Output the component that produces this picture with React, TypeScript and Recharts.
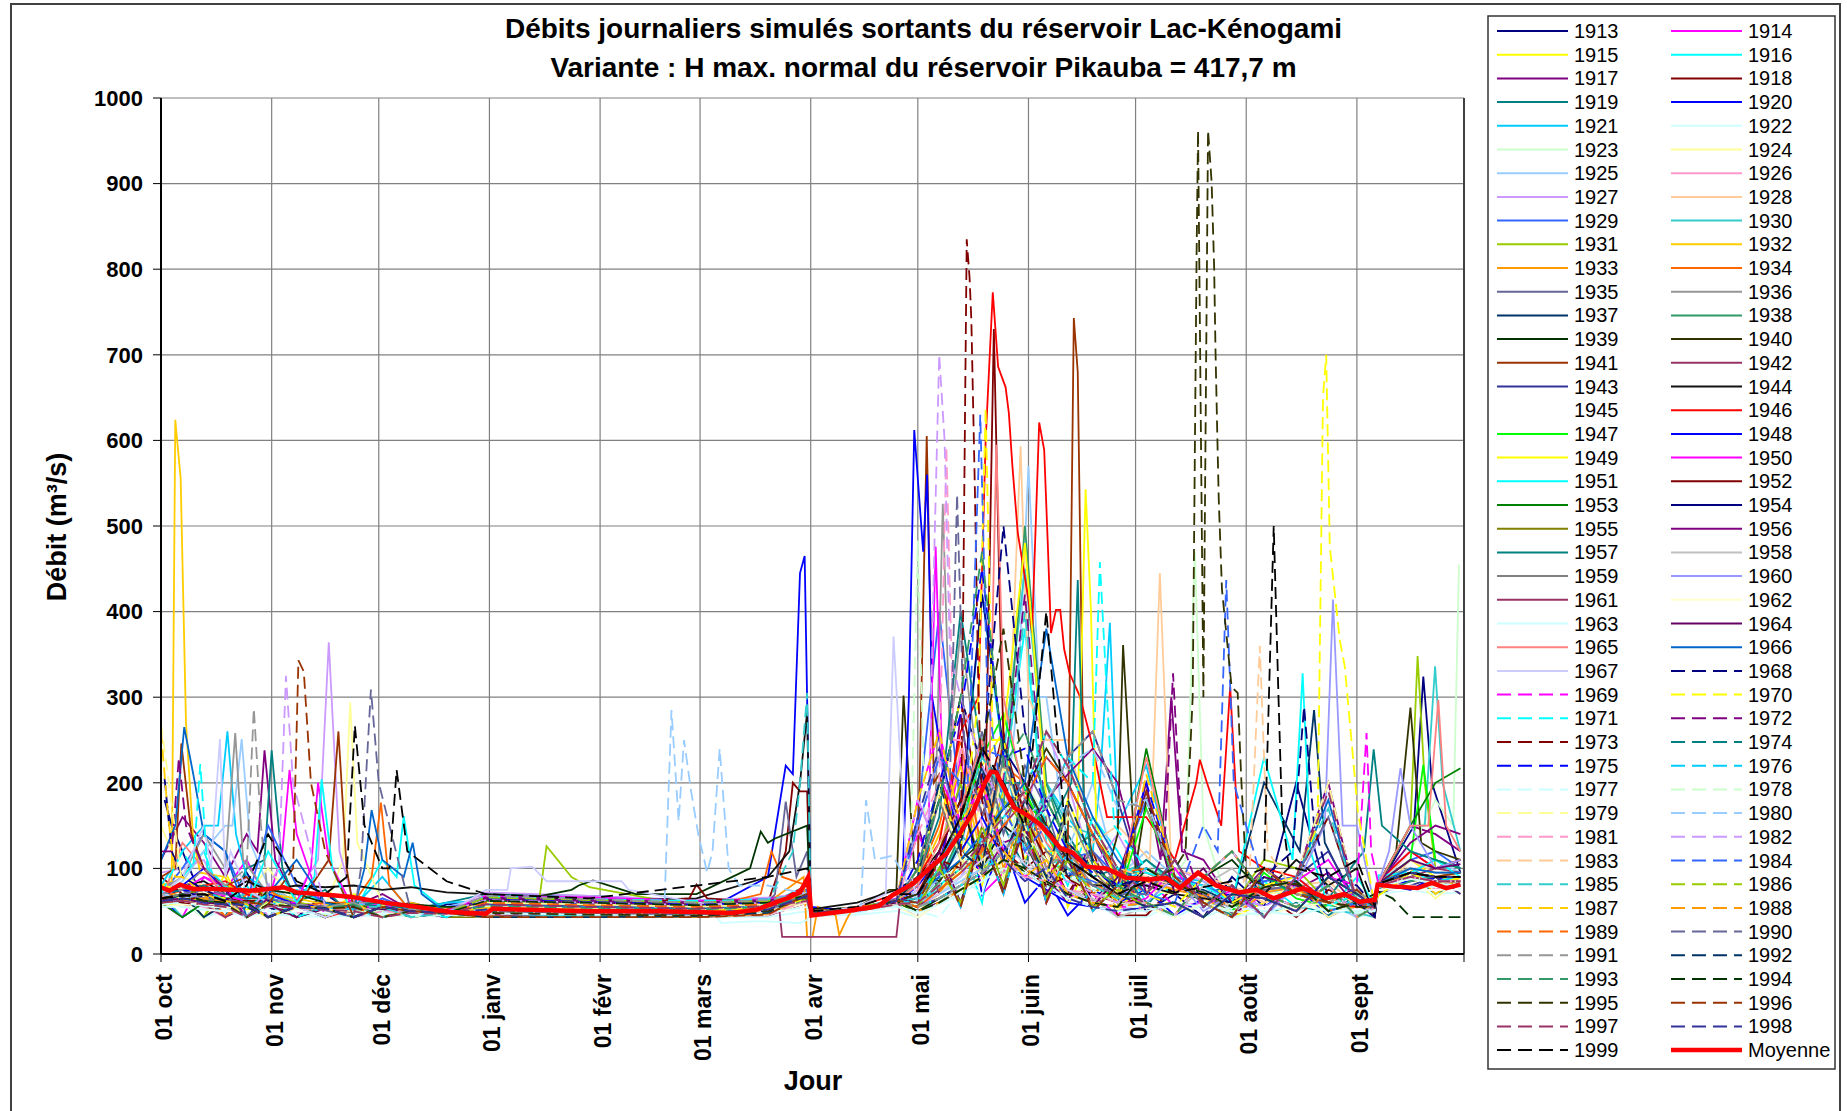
import React from "react";
import { CartesianGrid, Line, LineChart, ReferenceLine, XAxis, YAxis } from "recharts";

const FONT = '"Liberation Sans", Arial, sans-serif';

// day 0 = 1 Oct, day 364 = 30 Sept
const DAYS = [0, 6, 12, 18, 24, 30, 38, 46, 54, 62, 70, 80, 91, 120, 150, 170, 181, 182, 195, 206, 212, 218, 224, 230, 236, 242, 248, 254, 261, 268, 276, 284, 292, 300, 309, 318, 327, 335, 340, 341, 350, 357, 364];

const MONTH_TICKS = [0, 31, 61, 92, 123, 151, 182, 212, 243, 273, 304, 335, 365];
const MONTH_LABELS = ["01 oct", "01 nov", "01 déc", "01 janv", "01 févr", "01 mars", "01 avr", "01 mai", "01 juin", "01 juil", "01 août", "01 sept", ""];
const Y_TICKS = [0, 100, 200, 300, 400, 500, 600, 700, 800, 900, 1000];

type Pt = [number, number];

// readings on the DAYS grid, one row per year
const y1913 = [175, 120, 60, 43, 95, 55, 43, 70, 48, 62, 43, 58, 60, 58, 55, 60, 75, 48, 50, 60, 70, 95, 150, 210, 120, 160, 80, 130, 60, 95, 50, 70, 43, 90, 55, 200, 65, 75, 50, 78, 150, 95, 95];
const y1914 = [60, 43, 90, 75, 110, 60, 70, 43, 65, 55, 48, 43, 43, 43, 43, 47, 70, 47, 52, 65, 140, 90, 230, 70, 95, 150, 60, 110, 70, 45, 90, 55, 60, 43, 70, 80, 60, 48, 55, 80, 120, 100, 110];
const y1915 = [85, 60, 43, 95, 50, 80, 60, 45, 70, 55, 43, 55, 55, 52, 50, 55, 60, 46, 50, 58, 60, 75, 100, 80, 180, 110, 160, 55, 120, 50, 90, 70, 65, 43, 60, 75, 50, 60, 45, 82, 110, 90, 85];
const y1916 = [70, 90, 120, 55, 80, 43, 75, 60, 48, 110, 58, 50, 65, 62, 58, 62, 65, 48, 52, 62, 55, 80, 130, 60, 200, 380, 130, 80, 160, 120, 60, 80, 70, 45, 85, 55, 50, 90, 58, 85, 100, 80, 90];
const y1917 = [110, 160, 130, 90, 140, 75, 62, 43, 56, 70, 51, 48, 43, 43, 43, 45, 60, 46, 50, 60, 150, 70, 280, 110, 120, 160, 90, 60, 140, 80, 200, 90, 110, 60, 100, 75, 95, 55, 56, 80, 150, 140, 120];
const y1918 = [90, 70, 43, 60, 55, 80, 60, 55, 43, 52, 60, 50, 58, 55, 52, 60, 190, 48, 52, 60, 100, 180, 300, 160, 260, 100, 120, 70, 120, 45, 45, 80, 65, 55, 70, 43, 75, 60, 52, 80, 90, 85, 80];
const y1919 = [75, 80, 70, 43, 100, 70, 60, 75, 43, 55, 52, 60, 70, 68, 62, 65, 70, 50, 55, 62, 60, 90, 130, 220, 150, 100, 200, 140, 90, 100, 55, 100, 70, 80, 45, 60, 45, 70, 58, 76, 95, 70, 85];
const y1920 = [65, 43, 60, 80, 70, 65, 58, 43, 55, 60, 50, 55, 48, 46, 45, 90, 460, 55, 50, 58, 80, 110, 200, 70, 130, 60, 90, 45, 75, 60, 75, 45, 65, 70, 55, 80, 43, 60, 55, 80, 85, 90, 80];
const y1921 = [80, 120, 150, 200, 90, 75, 60, 43, 55, 90, 50, 60, 62, 60, 56, 58, 80, 49, 53, 64, 70, 110, 150, 420, 230, 120, 200, 160, 120, 200, 220, 90, 85, 60, 70, 80, 50, 65, 56, 84, 100, 85, 90];
const y1922 = [55, 60, 43, 50, 48, 46, 45, 43, 45, 44, 45, 44, 43, 43, 43, 43, 50, 44, 46, 50, 43, 60, 90, 70, 150, 130, 80, 100, 60, 43, 43, 60, 55, 43, 50, 55, 60, 43, 48, 70, 75, 70, 72];
const y1923 = [60, 70, 43, 80, 65, 60, 43, 55, 52, 60, 50, 48, 55, 52, 50, 55, 70, 47, 52, 60, 55, 70, 95, 130, 110, 200, 160, 90, 110, 70, 100, 90, 70, 43, 75, 80, 60, 55, 55, 80, 120, 180, 430];
const y1924 = [150, 90, 80, 43, 70, 100, 60, 55, 43, 60, 55, 50, 43, 45, 43, 48, 65, 47, 50, 58, 50, 70, 100, 180, 90, 150, 120, 60, 90, 50, 75, 70, 65, 48, 70, 75, 43, 60, 54, 72, 90, 65, 88];
const y1925 = [70, 85, 120, 150, 150, 80, 60, 43, 55, 65, 50, 55, 66, 62, 60, 64, 70, 48, 52, 60, 60, 90, 120, 250, 140, 200, 300, 120, 200, 90, 120, 90, 80, 50, 75, 80, 60, 43, 56, 82, 95, 110, 95];
const y1926 = [65, 60, 55, 43, 70, 60, 48, 55, 43, 52, 50, 48, 50, 48, 47, 50, 65, 47, 51, 58, 75, 110, 240, 120, 210, 170, 80, 110, 60, 90, 90, 75, 68, 43, 72, 78, 55, 60, 45, 80, 100, 75, 90];
const y1927 = [95, 100, 110, 60, 90, 43, 70, 130, 60, 55, 52, 50, 72, 68, 63, 66, 70, 48, 52, 60, 55, 70, 90, 130, 220, 160, 260, 200, 100, 140, 80, 100, 85, 70, 55, 75, 80, 48, 56, 88, 120, 110, 100];
const y1928 = [60, 55, 60, 43, 65, 60, 56, 43, 53, 60, 50, 48, 43, 43, 43, 46, 65, 47, 51, 60, 50, 65, 80, 120, 260, 150, 250, 250, 130, 150, 90, 110, 90, 80, 60, 80, 85, 55, 56, 70, 110, 95, 90];
const y1929 = [70, 100, 140, 120, 60, 150, 80, 60, 43, 65, 52, 55, 60, 57, 54, 58, 75, 48, 52, 62, 160, 400, 170, 240, 230, 140, 150, 110, 120, 90, 180, 90, 80, 65, 85, 90, 60, 55, 57, 83, 110, 120, 100];
const y1930 = [70, 43, 60, 65, 70, 65, 43, 55, 58, 55, 51, 50, 54, 52, 50, 55, 65, 47, 51, 60, 60, 75, 140, 110, 230, 450, 200, 150, 140, 90, 110, 80, 70, 60, 80, 85, 50, 48, 43, 82, 150, 150, 120];
const y1931 = [65, 70, 43, 80, 75, 70, 60, 55, 43, 58, 52, 55, 52, 78, 55, 58, 70, 49, 55, 62, 70, 120, 200, 90, 180, 150, 90, 110, 70, 90, 90, 80, 70, 55, 110, 100, 60, 50, 58, 80, 348, 100, 110];
const y1932 = [80, 420, 150, 90, 43, 70, 65, 58, 55, 43, 60, 50, 45, 43, 43, 50, 70, 48, 52, 62, 85, 140, 220, 110, 190, 160, 120, 120, 80, 90, 90, 80, 70, 48, 80, 85, 55, 60, 56, 86, 100, 70, 90];
const y1933 = [60, 65, 70, 43, 60, 62, 56, 54, 43, 55, 50, 48, 64, 60, 58, 60, 90, 20, 60, 58, 60, 70, 110, 200, 100, 170, 140, 90, 100, 60, 85, 75, 68, 43, 72, 78, 50, 55, 54, 80, 90, 85, 85];
const y1934 = [65, 75, 80, 43, 70, 75, 55, 60, 60, 56, 50, 52, 56, 54, 52, 100, 80, 48, 52, 62, 90, 150, 250, 120, 220, 200, 100, 130, 70, 95, 95, 80, 70, 55, 75, 80, 50, 60, 43, 78, 95, 90, 70];
const y1935 = [70, 60, 65, 55, 60, 43, 56, 54, 60, 43, 50, 48, 43, 44, 43, 60, 120, 48, 52, 64, 65, 95, 160, 260, 140, 220, 170, 90, 120, 80, 90, 80, 70, 48, 75, 80, 55, 60, 56, 82, 75, 90, 90];
const y1936 = [75, 90, 140, 100, 90, 70, 58, 55, 60, 60, 43, 50, 68, 64, 60, 62, 70, 48, 52, 62, 90, 200, 380, 180, 220, 170, 100, 120, 80, 95, 95, 80, 72, 55, 78, 85, 50, 60, 56, 88, 100, 95, 95];
const y1937 = [60, 70, 43, 58, 60, 62, 56, 43, 55, 55, 50, 48, 50, 48, 46, 52, 70, 48, 52, 62, 60, 80, 130, 220, 110, 180, 150, 90, 110, 70, 90, 80, 75, 60, 200, 120, 60, 55, 56, 82, 95, 90, 90];
const y1938 = [65, 70, 60, 75, 55, 70, 43, 55, 58, 55, 51, 43, 62, 58, 56, 60, 70, 48, 52, 62, 55, 85, 140, 250, 170, 500, 200, 120, 140, 90, 100, 85, 72, 55, 80, 85, 55, 60, 56, 70, 85, 90, 95];
const y1939 = [70, 75, 70, 65, 43, 75, 70, 60, 55, 60, 58, 55, 55, 80, 70, 130, 150, 50, 52, 60, 50, 65, 80, 95, 120, 95, 80, 75, 60, 55, 60, 45, 90, 110, 70, 55, 80, 43, 56, 82, 95, 90, 90];
const y1940 = [60, 65, 60, 58, 60, 43, 56, 54, 48, 55, 43, 48, 43, 43, 45, 52, 70, 48, 55, 75, 60, 85, 110, 130, 170, 190, 240, 200, 140, 140, 180, 90, 60, 43, 100, 70, 60, 75, 58, 82, 130, 120, 110];
const y1941 = [90, 120, 100, 80, 90, 60, 55, 43, 51, 60, 50, 48, 58, 55, 52, 56, 70, 48, 52, 62, 90, 210, 120, 100, 250, 140, 90, 180, 110, 70, 100, 80, 72, 55, 78, 85, 50, 60, 56, 82, 95, 90, 95];
const y1942 = [60, 62, 58, 43, 55, 56, 54, 52, 43, 50, 48, 47, 46, 44, 43, 50, 62, 47, 50, 58, 60, 110, 55, 140, 70, 160, 60, 120, 50, 80, 55, 60, 43, 70, 65, 50, 90, 70, 54, 80, 90, 100, 95];
const y1943 = [65, 60, 62, 58, 43, 60, 56, 54, 50, 43, 50, 48, 66, 63, 60, 64, 68, 48, 52, 60, 55, 65, 80, 95, 120, 150, 170, 230, 260, 180, 70, 110, 55, 80, 43, 90, 120, 60, 55, 72, 80, 90, 70];
const y1944 = [75, 80, 85, 70, 85, 75, 80, 78, 80, 75, 78, 72, 70, 62, 65, 90, 283, 52, 60, 75, 90, 120, 180, 100, 150, 130, 80, 100, 80, 80, 80, 70, 65, 60, 70, 110, 80, 100, 43, 78, 90, 85, 85];
const y1945 = [55, 55, 52, 50, 50, 50, 50, 48, 47, 48, 47, 48, 48, 47, 46, 48, 55, 46, 50, 55, 60, 80, 120, 90, 110, 90, 70, 70, 60, 60, 60, 55, 52, 50, 55, 58, 50, 52, 50, 75, 75, 75, 75];
const y1946 = [70, 75, 80, 85, 70, 60, 56, 43, 52, 60, 50, 52, 57, 54, 52, 56, 80, 48, 55, 70, 90, 130, 260, 480, 580, 580, 250, 250, 160, 160, 160, 110, 200, 80, 100, 90, 60, 55, 58, 85, 120, 100, 110];
const y1947 = [60, 65, 70, 62, 55, 43, 56, 54, 60, 52, 43, 48, 43, 43, 43, 50, 65, 48, 52, 60, 65, 100, 150, 230, 280, 190, 140, 100, 80, 65, 170, 85, 60, 50, 95, 65, 55, 70, 55, 82, 110, 100, 100];
const y1948 = [70, 80, 100, 75, 43, 70, 58, 55, 43, 60, 51, 50, 60, 58, 55, 58, 70, 48, 52, 60, 300, 250, 120, 160, 110, 90, 75, 60, 55, 50, 55, 60, 43, 70, 65, 50, 90, 70, 56, 82, 75, 90, 90];
const y1949 = [55, 60, 65, 60, 58, 58, 43, 54, 55, 55, 50, 43, 52, 50, 48, 52, 65, 47, 52, 60, 100, 180, 300, 220, 260, 480, 180, 130, 100, 80, 100, 80, 72, 55, 78, 85, 50, 60, 55, 68, 95, 80, 90];
const y1950 = [70, 75, 90, 80, 43, 60, 60, 55, 52, 60, 43, 50, 68, 66, 62, 64, 70, 48, 52, 62, 180, 260, 150, 200, 120, 90, 110, 70, 60, 55, 65, 100, 55, 75, 43, 85, 110, 60, 56, 82, 95, 90, 90];
const y1951 = [65, 70, 75, 80, 55, 120, 60, 55, 43, 60, 51, 50, 43, 45, 43, 50, 70, 48, 52, 62, 60, 80, 100, 130, 160, 190, 260, 220, 150, 100, 95, 85, 80, 60, 230, 90, 56, 70, 56, 92, 95, 110, 90];
const y1952 = [65, 60, 70, 65, 62, 62, 43, 54, 56, 55, 50, 48, 58, 56, 65, 60, 70, 48, 52, 62, 70, 120, 180, 200, 300, 160, 110, 90, 70, 60, 60, 45, 90, 120, 70, 55, 80, 43, 56, 82, 95, 90, 90];
const y1953 = [60, 43, 60, 62, 60, 60, 56, 43, 58, 52, 50, 48, 62, 60, 57, 60, 65, 47, 52, 60, 50, 60, 75, 90, 110, 100, 85, 70, 60, 55, 240, 90, 60, 43, 100, 70, 60, 75, 55, 80, 150, 200, 217];
const y1954 = [70, 75, 65, 60, 43, 62, 56, 54, 60, 43, 50, 48, 50, 48, 46, 52, 70, 48, 52, 62, 70, 110, 160, 420, 240, 200, 150, 110, 90, 70, 100, 80, 72, 55, 78, 85, 50, 60, 43, 82, 95, 90, 90];
const y1955 = [65, 70, 75, 62, 60, 43, 56, 54, 58, 55, 50, 43, 43, 43, 44, 48, 68, 48, 52, 62, 55, 100, 60, 150, 80, 170, 65, 110, 55, 75, 55, 60, 43, 70, 65, 50, 90, 70, 55, 82, 95, 90, 90];
const y1956 = [60, 65, 70, 65, 43, 60, 56, 54, 43, 55, 50, 48, 66, 62, 60, 63, 68, 48, 52, 62, 50, 60, 75, 90, 130, 140, 180, 210, 240, 200, 70, 110, 55, 80, 43, 90, 200, 60, 55, 82, 130, 150, 140];
const y1957 = [70, 75, 80, 70, 65, 65, 43, 55, 58, 60, 51, 43, 55, 52, 50, 55, 70, 48, 52, 62, 90, 160, 400, 230, 200, 200, 140, 200, 100, 80, 110, 85, 60, 45, 90, 70, 65, 110, 56, 82, 120, 110, 100];
const y1958 = [60, 60, 58, 55, 43, 56, 54, 52, 43, 50, 48, 47, 43, 43, 43, 45, 62, 47, 50, 58, 43, 60, 80, 100, 95, 110, 90, 75, 65, 43, 55, 45, 80, 100, 65, 50, 70, 45, 54, 80, 90, 85, 85];
const y1959 = [65, 70, 65, 60, 60, 43, 56, 54, 55, 43, 50, 48, 60, 57, 55, 58, 68, 48, 52, 60, 85, 180, 110, 95, 230, 130, 85, 170, 100, 65, 100, 80, 72, 55, 78, 85, 50, 60, 55, 82, 95, 90, 90];
const y1960 = [60, 65, 70, 62, 43, 60, 56, 54, 60, 55, 43, 48, 48, 46, 45, 50, 68, 48, 52, 60, 150, 230, 140, 180, 110, 85, 100, 65, 55, 50, 60, 90, 50, 70, 43, 80, 100, 150, 56, 82, 180, 100, 110];
const y1961 = [60, 62, 58, 55, 43, 56, 54, 52, 43, 50, 48, 47, 55, 53, 50, 60, 20, 20, 20, 80, 55, 75, 95, 120, 150, 180, 230, 200, 140, 95, 55, 60, 43, 70, 65, 50, 90, 70, 54, 80, 90, 85, 85];
const y1962 = [55, 58, 60, 55, 50, 43, 54, 52, 50, 43, 48, 47, 43, 43, 43, 46, 60, 47, 50, 56, 43, 60, 75, 90, 110, 100, 85, 70, 60, 55, 55, 43, 60, 50, 45, 55, 60, 48, 52, 78, 88, 82, 80];
const y1963 = [58, 60, 56, 54, 43, 55, 53, 52, 43, 49, 47, 47, 49, 47, 46, 38, 40, 47, 50, 56, 48, 58, 70, 85, 100, 95, 80, 65, 55, 50, 50, 60, 43, 55, 50, 45, 55, 50, 52, 78, 88, 82, 80];
const y1964 = [62, 65, 60, 58, 55, 58, 43, 53, 55, 52, 50, 43, 64, 60, 58, 62, 66, 48, 52, 60, 65, 120, 60, 130, 75, 150, 70, 110, 55, 90, 190, 70, 100, 60, 90, 80, 65, 75, 55, 82, 110, 100, 105];
const y1965 = [60, 130, 100, 65, 43, 62, 56, 54, 43, 55, 50, 48, 52, 50, 48, 52, 68, 48, 52, 62, 80, 130, 170, 250, 220, 180, 130, 100, 80, 70, 230, 90, 60, 43, 100, 70, 60, 75, 56, 82, 150, 200, 120];
const y1966 = [110, 200, 140, 120, 43, 70, 110, 60, 52, 55, 49, 48, 58, 55, 53, 56, 70, 48, 52, 62, 70, 90, 110, 140, 170, 200, 380, 230, 160, 110, 70, 110, 55, 80, 43, 90, 180, 60, 56, 82, 100, 95, 95];
const y1967 = [70, 90, 150, 90, 75, 60, 55, 43, 55, 50, 48, 47, 75, 85, 60, 55, 70, 48, 55, 100, 60, 70, 90, 110, 130, 105, 85, 75, 60, 55, 60, 45, 90, 120, 70, 55, 80, 43, 56, 82, 95, 90, 90];
const y1968 = [200, 90, 75, 65, 43, 62, 56, 54, 43, 55, 50, 48, 43, 44, 43, 50, 70, 48, 52, 62, 100, 180, 300, 220, 500, 260, 180, 130, 100, 80, 90, 80, 70, 60, 90, 250, 90, 80, 56, 82, 95, 90, 90];
const y1969 = [65, 70, 75, 68, 62, 43, 56, 54, 55, 55, 43, 48, 62, 60, 57, 60, 70, 48, 52, 62, 180, 260, 150, 200, 120, 90, 110, 70, 60, 55, 55, 60, 43, 70, 65, 50, 90, 70, 56, 82, 95, 90, 90];
const y1970 = [80, 75, 70, 65, 43, 62, 56, 54, 43, 55, 50, 48, 55, 52, 50, 54, 70, 48, 52, 62, 90, 200, 120, 100, 250, 140, 90, 180, 110, 70, 70, 55, 90, 60, 80, 90, 200, 165, 56, 82, 95, 90, 90];
const y1971 = [70, 120, 90, 80, 55, 70, 43, 55, 58, 55, 51, 43, 68, 64, 62, 64, 70, 48, 52, 62, 55, 65, 80, 95, 120, 150, 170, 230, 260, 180, 100, 80, 72, 55, 78, 85, 50, 60, 56, 82, 95, 90, 90];
const y1972 = [120, 150, 100, 75, 43, 65, 58, 55, 43, 55, 51, 50, 43, 43, 43, 47, 70, 48, 52, 62, 70, 110, 160, 240, 200, 420, 150, 110, 90, 70, 70, 130, 60, 43, 78, 85, 50, 60, 56, 82, 95, 90, 90];
const y1973 = [65, 60, 58, 55, 60, 43, 56, 54, 57, 43, 50, 48, 58, 55, 53, 56, 70, 48, 52, 62, 70, 110, 100, 180, 120, 100, 80, 90, 60, 55, 70, 110, 55, 80, 43, 90, 160, 60, 55, 82, 95, 90, 90];
const y1974 = [65, 68, 70, 62, 43, 60, 56, 54, 60, 55, 43, 48, 50, 48, 47, 52, 70, 48, 52, 62, 60, 80, 100, 130, 160, 190, 260, 220, 150, 100, 60, 45, 90, 120, 70, 55, 80, 43, 56, 82, 95, 90, 90];
const y1975 = [70, 75, 70, 62, 60, 43, 56, 54, 43, 55, 50, 48, 65, 62, 58, 60, 70, 48, 52, 62, 110, 200, 280, 450, 230, 240, 170, 120, 95, 80, 200, 90, 60, 43, 100, 70, 60, 75, 56, 82, 95, 90, 90];
const y1976 = [65, 70, 75, 62, 43, 60, 56, 54, 52, 43, 50, 48, 43, 43, 43, 48, 70, 48, 52, 62, 60, 110, 55, 140, 70, 160, 60, 120, 50, 80, 100, 80, 72, 55, 78, 85, 50, 60, 56, 82, 95, 90, 90];
const y1977 = [55, 55, 52, 50, 43, 50, 48, 47, 43, 46, 45, 45, 47, 46, 45, 48, 55, 46, 48, 55, 50, 43, 75, 90, 110, 100, 85, 70, 60, 55, 55, 43, 58, 50, 45, 60, 50, 48, 50, 75, 80, 78, 76];
const y1978 = [60, 62, 58, 55, 56, 43, 54, 52, 50, 50, 43, 47, 56, 53, 51, 55, 62, 47, 50, 58, 120, 90, 100, 130, 160, 140, 110, 90, 75, 60, 55, 60, 43, 70, 65, 50, 90, 70, 54, 80, 90, 85, 85];
const y1979 = [270, 80, 70, 62, 43, 60, 56, 54, 43, 55, 50, 48, 60, 58, 55, 58, 70, 48, 52, 62, 100, 190, 110, 95, 220, 150, 85, 160, 100, 70, 70, 110, 55, 80, 43, 90, 200, 60, 56, 82, 95, 90, 90];
const y1980 = [70, 65, 70, 62, 60, 43, 56, 54, 55, 43, 50, 48, 52, 50, 55, 80, 70, 48, 52, 115, 60, 70, 85, 100, 130, 160, 180, 220, 240, 170, 180, 90, 60, 43, 100, 70, 60, 75, 56, 82, 95, 90, 90];
const y1981 = [60, 62, 58, 55, 43, 56, 54, 52, 43, 50, 48, 47, 43, 43, 43, 46, 62, 47, 50, 58, 140, 200, 250, 150, 110, 90, 85, 75, 70, 60, 60, 45, 90, 120, 70, 55, 80, 43, 54, 80, 90, 85, 85];
const y1982 = [65, 70, 75, 70, 43, 80, 58, 55, 43, 55, 51, 50, 63, 60, 57, 60, 70, 48, 52, 62, 180, 200, 300, 220, 170, 120, 95, 85, 72, 60, 100, 80, 72, 55, 78, 85, 50, 60, 56, 82, 95, 90, 90];
const y1983 = [60, 62, 58, 55, 56, 43, 54, 52, 50, 43, 48, 47, 50, 48, 47, 50, 62, 47, 50, 58, 60, 80, 100, 130, 160, 190, 260, 220, 150, 100, 90, 80, 72, 55, 100, 70, 60, 75, 56, 82, 95, 90, 90];
const y1984 = [60, 65, 60, 58, 43, 58, 55, 53, 43, 55, 50, 48, 57, 55, 52, 56, 70, 48, 52, 62, 150, 230, 200, 240, 170, 120, 150, 95, 85, 72, 70, 60, 150, 200, 78, 85, 50, 60, 56, 82, 95, 90, 90];
const y1985 = [65, 68, 70, 62, 60, 43, 56, 54, 55, 55, 43, 48, 43, 45, 44, 60, 305, 48, 52, 62, 65, 100, 150, 230, 190, 400, 140, 100, 80, 65, 70, 110, 55, 80, 43, 90, 170, 60, 56, 82, 95, 90, 90];
const y1986 = [60, 65, 62, 58, 43, 58, 55, 53, 43, 55, 50, 48, 66, 63, 60, 62, 68, 48, 52, 62, 55, 100, 60, 150, 80, 170, 65, 110, 55, 75, 55, 60, 43, 70, 65, 50, 90, 70, 55, 82, 95, 90, 90];
const y1987 = [260, 90, 70, 62, 58, 43, 56, 54, 60, 43, 50, 48, 54, 52, 50, 54, 70, 48, 52, 62, 180, 260, 150, 200, 120, 90, 110, 70, 60, 55, 210, 90, 60, 43, 100, 70, 60, 75, 56, 82, 95, 90, 90];
const y1988 = [60, 62, 65, 60, 43, 58, 55, 53, 43, 55, 50, 48, 43, 43, 43, 47, 68, 48, 52, 62, 50, 60, 75, 90, 110, 100, 85, 70, 60, 55, 60, 45, 90, 120, 70, 55, 80, 43, 55, 82, 95, 90, 90];
const y1989 = [65, 70, 62, 60, 55, 43, 55, 53, 55, 43, 50, 48, 60, 57, 55, 58, 68, 48, 52, 62, 55, 75, 95, 120, 150, 180, 230, 200, 140, 95, 100, 80, 72, 55, 78, 85, 50, 60, 55, 82, 95, 90, 90];
const y1990 = [65, 70, 75, 70, 43, 65, 56, 51, 43, 55, 50, 48, 50, 48, 46, 52, 70, 48, 52, 62, 100, 200, 300, 160, 230, 180, 120, 100, 80, 70, 70, 110, 55, 80, 43, 90, 160, 60, 55, 82, 95, 90, 90];
const y1991 = [70, 75, 100, 80, 43, 65, 58, 55, 60, 43, 51, 50, 68, 64, 60, 63, 70, 48, 52, 62, 55, 65, 80, 95, 120, 150, 170, 230, 260, 180, 170, 90, 60, 43, 100, 70, 60, 75, 55, 82, 95, 90, 90];
const y1992 = [65, 68, 70, 62, 55, 43, 56, 54, 43, 55, 50, 48, 43, 43, 44, 48, 70, 48, 52, 62, 90, 200, 120, 100, 250, 140, 90, 180, 110, 70, 55, 60, 43, 70, 65, 50, 90, 70, 55, 82, 95, 90, 90];
const y1993 = [60, 65, 62, 58, 43, 58, 55, 53, 58, 43, 50, 48, 56, 54, 52, 55, 68, 48, 52, 62, 100, 180, 300, 470, 220, 260, 180, 130, 100, 80, 60, 45, 90, 120, 70, 55, 80, 43, 55, 82, 95, 90, 90];
const y1994 = [65, 70, 62, 60, 60, 43, 55, 53, 43, 55, 50, 48, 62, 60, 57, 60, 68, 48, 52, 62, 50, 60, 75, 90, 110, 100, 85, 70, 60, 55, 100, 80, 72, 55, 78, 85, 50, 60, 70, 73, 43, 43, 43];
const y1995 = [60, 65, 62, 58, 43, 58, 55, 53, 55, 43, 50, 48, 48, 46, 45, 50, 68, 48, 52, 62, 70, 110, 160, 240, 380, 200, 150, 110, 90, 70, 85, 100, 300, 300, 80, 82, 60, 55, 55, 82, 95, 90, 90];
const y1996 = [65, 68, 70, 62, 60, 58, 100, 120, 43, 55, 50, 48, 43, 43, 43, 46, 70, 48, 52, 62, 60, 110, 55, 140, 70, 160, 60, 120, 50, 80, 190, 90, 60, 43, 100, 70, 60, 75, 56, 82, 95, 90, 90];
const y1997 = [60, 62, 58, 55, 43, 56, 54, 52, 50, 43, 48, 47, 58, 55, 53, 56, 62, 47, 50, 58, 60, 80, 100, 130, 160, 190, 260, 220, 150, 100, 70, 110, 55, 80, 43, 90, 190, 60, 54, 80, 90, 85, 85];
const y1998 = [62, 65, 60, 58, 58, 43, 55, 53, 43, 55, 50, 48, 52, 50, 48, 52, 68, 48, 52, 62, 160, 240, 140, 190, 110, 85, 100, 65, 55, 50, 55, 60, 43, 70, 65, 50, 90, 70, 55, 82, 95, 90, 90];
const y1999 = [65, 68, 70, 62, 80, 140, 85, 70, 100, 100, 120, 85, 70, 65, 80, 90, 100, 50, 55, 70, 70, 110, 160, 240, 200, 150, 400, 110, 90, 70, 85, 72, 78, 85, 500, 100, 90, 110, 56, 82, 95, 90, 90];

// extra readings (peaks, dips) that replace the grid values next to them
const p1913: Pt[] = [[1, 180], [3, 150], [351, 150], [353.6, 324], [356, 200]];
const p1914: Pt[] = [[34, 120], [36, 215], [38, 140]];
const p1916: Pt[] = [[66, 90], [68, 161], [71, 80]];
const p1917: Pt[] = [[27, 120], [29, 238], [32, 110], [280, 110], [283, 300], [286, 120]];
const p1918: Pt[] = [[175, 120], [177, 200], [179, 190]];
const p1919: Pt[] = [[29, 110], [31, 238], [34, 100]];
const p1920: Pt[] = [[175, 220], [177, 210], [179, 445], [180.3, 465]];
const p1921: Pt[] = [[16, 150], [18.6, 260], [21, 140], [263, 200], [265.8, 387], [268, 150]];
const p1923: Pt[] = [[287, 110], [289.6, 469], [292, 150], [362, 150], [363.6, 455]];
const p1924: Pt[] = [[51, 110], [53, 294], [55, 130]];
const p1925: Pt[] = [[20, 150], [22.6, 251], [25, 130], [240, 300], [243, 570], [246, 300]];
const p1927: Pt[] = [[44, 110], [47, 364], [50, 120]];
const p1928: Pt[] = [[238, 300], [240.8, 593], [243, 300], [277, 110], [279.8, 445], [283, 100]];
const p1930: Pt[] = [[354, 150], [356.9, 336], [359, 200]];
const p1931: Pt[] = [[106, 65], [108, 126], [115, 90], [350, 150], [352, 348], [354, 200]];
const p1932: Pt[] = [[3, 85], [4, 624], [5.5, 556], [7, 270], [9, 135], [11, 95]];
const p1933: Pt[] = [[180, 90], [181, 20], [182.5, 20], [184, 55], [189, 45], [190, 22], [192, 40], [194, 55]];
const p1934: Pt[] = [[59, 90], [61.6, 177], [64, 80], [168, 70], [171, 120], [174, 90]];
const p1935: Pt[] = [[172, 70], [175, 178], [178, 90]];
const p1936: Pt[] = [[18, 100], [20.8, 258], [23, 110], [217, 180], [219, 526], [221, 250]];
const p1937: Pt[] = [[319, 120], [323, 285], [326, 130]];
const p1939: Pt[] = [[115, 75], [117, 80], [121, 86], [133, 70], [165, 100], [168, 143], [172, 135]];
const p1940: Pt[] = [[204, 75], [208, 302], [211, 100], [266, 110], [269.5, 361], [273, 100], [346, 120], [350, 288], [353, 130]];
const p1941: Pt[] = [[4, 100], [5.7, 246], [8.5, 140], [47, 110], [49.7, 260], [52, 100], [212, 100], [214.5, 605], [216.5, 200], [254, 120], [255.7, 743], [256.8, 680], [258.5, 180]];
const p1944: Pt[] = [[176, 120], [179, 200]];
const p1946: Pt[] = [[229, 300], [231, 600], [233, 773], [234.5, 686], [236.6, 662], [237.5, 632], [238.5, 570], [240, 492], [243, 414], [244, 375], [246, 621], [247.4, 589], [248.4, 480], [249.3, 375], [250.7, 402], [251.9, 402], [253, 356], [254.5, 328], [257.4, 301], [261, 242], [265, 160], [290, 200], [291, 227], [293, 200], [297, 150], [299.5, 312], [302, 120]];
const p1947: Pt[] = [[350, 110], [353.6, 221], [357, 110]];
const p1948: Pt[] = [[207.5, 60], [209.5, 300], [211, 612], [213.5, 470], [214.6, 560], [216, 300]];
const p1949: Pt[] = [[256.5, 120], [259, 543], [260.5, 400], [262, 150]];
const p1950: Pt[] = [[42, 100], [44, 200], [47, 110], [215, 150], [217, 476], [219, 200]];
const p1951: Pt[] = [[43, 90], [45, 204], [48, 100], [317, 110], [319.8, 328], [322, 120]];
const p1952: Pt[] = [[148, 65], [150, 81], [153, 65], [231, 200], [233.3, 730], [235, 400], [236, 250]];
const p1957: Pt[] = [[255, 200], [256.8, 437], [258.5, 180], [337, 120], [339.7, 239], [342, 150]];
const p1960: Pt[] = [[326, 150], [328.3, 414], [331, 150], [344, 120], [347.2, 217], [350, 150]];
const p1961: Pt[] = [[173, 60], [174, 20], [206, 20], [207, 60]];
const p1963: Pt[] = [[155, 46], [157, 36], [165, 38], [179, 36]];
const p1965: Pt[] = [[232, 200], [234, 595], [236, 300], [355, 150], [357.8, 297], [360, 150]];
const p1966: Pt[] = [[4, 150], [6.5, 265], [9.5, 200], [57, 100], [59, 168], [62, 110], [68, 90], [70.5, 130], [73, 70]];
const p1967: Pt[] = [[14, 100], [16.5, 251], [19.5, 120], [97, 75], [98, 100], [104, 102], [108, 85], [129, 85], [131, 75], [203, 70], [205.2, 371], [208.5, 120]];
const p1968: Pt[] = [[1, 205], [3, 120], [317, 120], [320.2, 289], [323, 150]];
const p1969: Pt[] = [[335, 80], [337.7, 258], [339, 120]];
const p1970: Pt[] = [[229, 300], [231, 638], [233, 250], [324, 150], [325.5, 650], [326.4, 700], [327.4, 476], [330.2, 367], [331.6, 336], [335.3, 165]];
const p1971: Pt[] = [[9, 100], [11, 222], [13, 100], [261, 200], [263, 458], [265, 300], [267, 150]];
const p1972: Pt[] = [[3, 120], [5, 229], [7, 150], [281, 120], [283.5, 328], [286, 130]];
const p1973: Pt[] = [[224, 100], [225.7, 835], [226.5, 790], [227, 740], [228, 540], [229, 300], [230, 180], [232, 140]];
const p1978: Pt[] = [[210, 120], [212, 483], [214, 150]];
const p1980: Pt[] = [[141, 55], [143, 285], [145, 155], [146.5, 250], [148.5, 190], [150.5, 140], [153, 95], [154.5, 120], [156.5, 240], [159, 100], [162, 80], [196, 50], [197.5, 180], [200, 110], [205, 115]];
const p1981: Pt[] = [[218, 200], [220, 593], [222, 250]];
const p1982: Pt[] = [[33, 100], [35, 325], [37, 200], [215, 150], [216.5, 450], [218, 700], [219.5, 600], [221, 350]];
const p1983: Pt[] = [[305, 100], [307.8, 360], [310, 120]];
const p1984: Pt[] = [[226, 200], [229.5, 630], [231.5, 300], [296, 120], [298.4, 437], [300.5, 200]];
const p1985: Pt[] = [[177, 120], [179, 200]];
const p1987: Pt[] = [[2, 160], [4, 90]];
const p1990: Pt[] = [[56, 100], [58.8, 309], [61, 200], [221, 200], [223, 537], [225, 250]];
const p1991: Pt[] = [[24, 100], [26, 287], [28, 150]];
const p1994: Pt[] = [[345, 65]];
const p1995: Pt[] = [[287, 120], [289, 300], [290.1, 820], [290.5, 962], [293.3, 962], [294.3, 902], [295, 804], [295.4, 703], [295.9, 605], [296.3, 531], [297.2, 426], [299.9, 312], [301.6, 305], [302.6, 205], [304, 90]];
const p1996: Pt[] = [[37, 100], [38.5, 343], [40, 330], [42, 200]];
const p1999: Pt[] = [[52, 90], [54.3, 267], [57, 150], [64, 100], [66, 215], [69, 120], [309, 100], [311.7, 500], [313, 305], [314, 165], [316, 100]];

const MEAN: Pt[] = [[0, 78], [2.4, 74], [5.3, 81], [9, 76], [15.6, 76], [25, 74], [30, 76], [34.4, 78], [38, 72], [43.8, 70], [53, 67], [62.5, 60], [72, 55], [81, 49], [91, 47], [93, 53], [100, 52], [120, 50], [140, 50], [150, 49], [160, 48], [167, 52], [172, 60], [176, 66], [179, 72], [181.3, 90], [182.2, 45], [191.7, 50], [201, 56], [205, 69], [210.6, 82], [214.4, 97], [220, 117], [223.8, 141], [227.6, 167], [230.9, 201], [232.5, 213], [234, 212], [235, 203], [239, 171], [242.7, 162], [246.4, 151], [251.9, 124], [255.5, 118], [259.2, 102], [264.8, 100], [270.4, 89], [277, 87], [281.6, 89], [285.4, 77], [290.5, 95], [295.6, 80], [302, 72], [306.9, 75], [311.6, 65], [320, 77], [326.5, 65], [331.4, 70], [335.8, 61], [340, 63], [340.8, 81], [345, 79], [352, 77], [356, 83], [360, 77], [364, 81]];

type Year = { name: string; vals: number[]; extra: Pt[]; color: string; dashed: boolean };

const YEARS: Year[] = [
  { name: "1913", vals: y1913, extra: p1913, color: "#000080", dashed: false },
  { name: "1914", vals: y1914, extra: p1914, color: "#FF00FF", dashed: false },
  { name: "1915", vals: y1915, extra: [], color: "#FFFF00", dashed: false },
  { name: "1916", vals: y1916, extra: p1916, color: "#00FFFF", dashed: false },
  { name: "1917", vals: y1917, extra: p1917, color: "#800080", dashed: false },
  { name: "1918", vals: y1918, extra: p1918, color: "#800000", dashed: false },
  { name: "1919", vals: y1919, extra: p1919, color: "#008080", dashed: false },
  { name: "1920", vals: y1920, extra: p1920, color: "#0000FF", dashed: false },
  { name: "1921", vals: y1921, extra: p1921, color: "#00CCFF", dashed: false },
  { name: "1922", vals: y1922, extra: [], color: "#CCFFFF", dashed: false },
  { name: "1923", vals: y1923, extra: p1923, color: "#CCFFCC", dashed: false },
  { name: "1924", vals: y1924, extra: p1924, color: "#FFFF99", dashed: false },
  { name: "1925", vals: y1925, extra: p1925, color: "#99CCFF", dashed: false },
  { name: "1926", vals: y1926, extra: [], color: "#FF99CC", dashed: false },
  { name: "1927", vals: y1927, extra: p1927, color: "#CC99FF", dashed: false },
  { name: "1928", vals: y1928, extra: p1928, color: "#FFCC99", dashed: false },
  { name: "1929", vals: y1929, extra: [], color: "#3366FF", dashed: false },
  { name: "1930", vals: y1930, extra: p1930, color: "#33CCCC", dashed: false },
  { name: "1931", vals: y1931, extra: p1931, color: "#99CC00", dashed: false },
  { name: "1932", vals: y1932, extra: p1932, color: "#FFCC00", dashed: false },
  { name: "1933", vals: y1933, extra: p1933, color: "#FF9900", dashed: false },
  { name: "1934", vals: y1934, extra: p1934, color: "#FF6600", dashed: false },
  { name: "1935", vals: y1935, extra: p1935, color: "#666699", dashed: false },
  { name: "1936", vals: y1936, extra: p1936, color: "#969696", dashed: false },
  { name: "1937", vals: y1937, extra: p1937, color: "#003366", dashed: false },
  { name: "1938", vals: y1938, extra: [], color: "#339966", dashed: false },
  { name: "1939", vals: y1939, extra: p1939, color: "#003300", dashed: false },
  { name: "1940", vals: y1940, extra: p1940, color: "#333300", dashed: false },
  { name: "1941", vals: y1941, extra: p1941, color: "#993300", dashed: false },
  { name: "1942", vals: y1942, extra: [], color: "#993366", dashed: false },
  { name: "1943", vals: y1943, extra: [], color: "#333399", dashed: false },
  { name: "1944", vals: y1944, extra: p1944, color: "#111111", dashed: false },
  { name: "1945", vals: y1945, extra: [], color: "#FFFFFF", dashed: false },
  { name: "1946", vals: y1946, extra: p1946, color: "#FF0000", dashed: false },
  { name: "1947", vals: y1947, extra: p1947, color: "#00FF00", dashed: false },
  { name: "1948", vals: y1948, extra: p1948, color: "#0000FF", dashed: false },
  { name: "1949", vals: y1949, extra: p1949, color: "#FFFF00", dashed: false },
  { name: "1950", vals: y1950, extra: p1950, color: "#FF00FF", dashed: false },
  { name: "1951", vals: y1951, extra: p1951, color: "#00FFFF", dashed: false },
  { name: "1952", vals: y1952, extra: p1952, color: "#800000", dashed: false },
  { name: "1953", vals: y1953, extra: [], color: "#008000", dashed: false },
  { name: "1954", vals: y1954, extra: [], color: "#000080", dashed: false },
  { name: "1955", vals: y1955, extra: [], color: "#808000", dashed: false },
  { name: "1956", vals: y1956, extra: [], color: "#800080", dashed: false },
  { name: "1957", vals: y1957, extra: p1957, color: "#008080", dashed: false },
  { name: "1958", vals: y1958, extra: [], color: "#C0C0C0", dashed: false },
  { name: "1959", vals: y1959, extra: [], color: "#808080", dashed: false },
  { name: "1960", vals: y1960, extra: p1960, color: "#9999FF", dashed: false },
  { name: "1961", vals: y1961, extra: p1961, color: "#993366", dashed: false },
  { name: "1962", vals: y1962, extra: [], color: "#FFFFCC", dashed: false },
  { name: "1963", vals: y1963, extra: p1963, color: "#CCFFFF", dashed: false },
  { name: "1964", vals: y1964, extra: [], color: "#660066", dashed: false },
  { name: "1965", vals: y1965, extra: p1965, color: "#FF8080", dashed: false },
  { name: "1966", vals: y1966, extra: p1966, color: "#0066CC", dashed: false },
  { name: "1967", vals: y1967, extra: p1967, color: "#CCCCFF", dashed: false },
  { name: "1968", vals: y1968, extra: p1968, color: "#000080", dashed: true },
  { name: "1969", vals: y1969, extra: p1969, color: "#FF00FF", dashed: true },
  { name: "1970", vals: y1970, extra: p1970, color: "#FFFF00", dashed: true },
  { name: "1971", vals: y1971, extra: p1971, color: "#00FFFF", dashed: true },
  { name: "1972", vals: y1972, extra: p1972, color: "#800080", dashed: true },
  { name: "1973", vals: y1973, extra: p1973, color: "#800000", dashed: true },
  { name: "1974", vals: y1974, extra: [], color: "#008080", dashed: true },
  { name: "1975", vals: y1975, extra: [], color: "#0000FF", dashed: true },
  { name: "1976", vals: y1976, extra: [], color: "#00CCFF", dashed: true },
  { name: "1977", vals: y1977, extra: [], color: "#CCFFFF", dashed: true },
  { name: "1978", vals: y1978, extra: p1978, color: "#CCFFCC", dashed: true },
  { name: "1979", vals: y1979, extra: [], color: "#FFFF99", dashed: true },
  { name: "1980", vals: y1980, extra: p1980, color: "#99CCFF", dashed: true },
  { name: "1981", vals: y1981, extra: p1981, color: "#FF99CC", dashed: true },
  { name: "1982", vals: y1982, extra: p1982, color: "#CC99FF", dashed: true },
  { name: "1983", vals: y1983, extra: p1983, color: "#FFCC99", dashed: true },
  { name: "1984", vals: y1984, extra: p1984, color: "#3366FF", dashed: true },
  { name: "1985", vals: y1985, extra: p1985, color: "#33CCCC", dashed: true },
  { name: "1986", vals: y1986, extra: [], color: "#99CC00", dashed: true },
  { name: "1987", vals: y1987, extra: p1987, color: "#FFCC00", dashed: true },
  { name: "1988", vals: y1988, extra: [], color: "#FF9900", dashed: true },
  { name: "1989", vals: y1989, extra: [], color: "#FF6600", dashed: true },
  { name: "1990", vals: y1990, extra: p1990, color: "#666699", dashed: true },
  { name: "1991", vals: y1991, extra: p1991, color: "#969696", dashed: true },
  { name: "1992", vals: y1992, extra: [], color: "#003366", dashed: true },
  { name: "1993", vals: y1993, extra: [], color: "#339966", dashed: true },
  { name: "1994", vals: y1994, extra: p1994, color: "#003300", dashed: true },
  { name: "1995", vals: y1995, extra: p1995, color: "#333300", dashed: true },
  { name: "1996", vals: y1996, extra: p1996, color: "#993300", dashed: true },
  { name: "1997", vals: y1997, extra: [], color: "#993366", dashed: true },
  { name: "1998", vals: y1998, extra: [], color: "#333399", dashed: true },
  { name: "1999", vals: y1999, extra: p1999, color: "#000000", dashed: true },
];

// grid readings close to an extra reading give way to it
function toPoints(vals: number[], extra: Pt[]) {
  const pts = DAYS.map((d, i) => ({ d, v: vals[i] })).filter(
    (p) => !extra.some(([ed]) => Math.abs(ed - p.d) < 1.2)
  );
  extra.forEach(([d, v]) => pts.push({ d, v }));
  return pts.sort((a, b) => a.d - b.d);
}

const SERIES = YEARS.map((y) => ({ ...y, data: toPoints(y.vals, y.extra) }));
const MEAN_DATA = MEAN.map(([d, v]) => ({ d, v }));

function MonthTick(props: any) {
  const { x, payload } = props;
  const label = MONTH_LABELS[MONTH_TICKS.indexOf(payload.value)];
  if (!label) return null;
  const ty = 974;
  return (
    <text
      x={x + 3}
      y={ty}
      transform={`rotate(-90, ${x + 3}, ${ty})`}
      textAnchor="end"
      dominantBaseline="central"
      fontFamily={FONT}
      fontWeight="bold"
      fontSize={23}
      fill="#000"
    >
      {label}
    </text>
  );
}

function LegendBox() {
  const items = [
    ...YEARS.map((y) => ({ name: y.name, color: y.color, dashed: y.dashed, w: 2 })),
    { name: "Moyenne", color: "#FF0000", dashed: false, w: 4.5 },
  ];
  return (
    <svg width={350} height={1056} style={{ position: "absolute", left: 1487, top: 15 }}>
      <rect x={1} y={1} width={347} height={1053} fill="#fff" stroke="#333" strokeWidth={1.5} />
      {items.map((it, i) => {
        const col = i % 2;
        const row = Math.floor(i / 2);
        const y = 16 + row * 23.7;
        const x0 = col ? 184 : 10;
        return (
          <g key={it.name}>
            <line
              x1={x0}
              x2={x0 + 71}
              y1={y}
              y2={y}
              stroke={it.color}
              strokeWidth={it.w}
              strokeDasharray={it.dashed ? "14 7" : undefined}
            />
            <text x={x0 + 77} y={y} dominantBaseline="central" fontFamily={FONT} fontSize={20} fill="#000">
              {it.name}
            </text>
          </g>
        );
      })}
    </svg>
  );
}

export default function App() {
  return (
    <div
      style={{
        position: "absolute",
        left: 0,
        top: 0,
        width: 1847,
        height: 1111,
        overflow: "hidden",
        background: "#fff",
        fontFamily: FONT,
      }}
    >
      <div
        style={{
          position: "absolute",
          left: 10,
          top: 3,
          width: 1827,
          height: 1200,
          border: "2px solid #404040",
        }}
      />
      <div style={{ position: "absolute", left: 0, width: 1847, top: 12, textAlign: "center", fontSize: 28, fontWeight: "bold", lineHeight: "34px" }}>
        Débits journaliers simulés sortants du réservoir Lac-Kénogami
      </div>
      <div style={{ position: "absolute", left: 0, width: 1847, top: 51, textAlign: "center", fontSize: 28, fontWeight: "bold", lineHeight: "34px" }}>
        Variante : H max. normal du réservoir Pikauba = 417,7 m
      </div>
      <div style={{ position: "absolute", left: 0, top: 0, width: 1847, height: 1111 }}>
        <LineChart width={1847} height={1111} margin={{ top: 98, right: 383, bottom: 0, left: 0 }}>
          <CartesianGrid stroke="#808080" strokeWidth={1.2} />
          <XAxis
            type="number"
            dataKey="d"
            domain={[0, 365]}
            ticks={MONTH_TICKS}
            interval={0}
            height={157}
            tickSize={8}
            tick={<MonthTick />}
            axisLine={{ stroke: "#000", strokeWidth: 2 }}
            tickLine={{ stroke: "#000" }}
            allowDataOverflow
          />
          <YAxis
            type="number"
            domain={[0, 1000]}
            ticks={Y_TICKS}
            interval={0}
            width={161}
            tickSize={8}
            tickMargin={10}
            axisLine={{ stroke: "#000", strokeWidth: 2 }}
            tickLine={{ stroke: "#000" }}
            tick={{ fill: "#000", fontSize: 22, fontWeight: "bold", fontFamily: FONT }}
          />
          <ReferenceLine x={365} stroke="#404040" strokeWidth={2} />
          {SERIES.map((s) => (
            <Line
              key={s.name}
              data={s.data}
              dataKey="v"
              type="linear"
              stroke={s.color}
              strokeWidth={1.8}
              strokeDasharray={s.dashed ? "12 6" : undefined}
              dot={false}
              activeDot={false}
              isAnimationActive={false}
            />
          ))}
          <Line
            data={MEAN_DATA}
            dataKey="v"
            type="linear"
            stroke="#FF0000"
            strokeWidth={4.5}
            dot={false}
            activeDot={false}
            isAnimationActive={false}
          />
        </LineChart>
      </div>
      <div
        style={{
          position: "absolute",
          left: 57,
          top: 527,
          transform: "translate(-50%, -50%) rotate(-90deg)",
          whiteSpace: "nowrap",
          fontSize: 27,
          fontWeight: "bold",
        }}
      >
        Débit (m³/s)
      </div>
      <div style={{ position: "absolute", left: 713, width: 200, top: 1066, textAlign: "center", fontSize: 27, fontWeight: "bold" }}>
        Jour
      </div>
      <LegendBox />
    </div>
  );
}
